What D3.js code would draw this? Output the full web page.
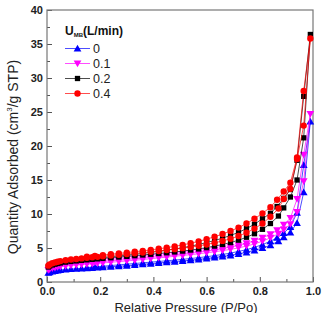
<!DOCTYPE html>
<html>
<head>
<meta charset="utf-8">
<script src="https://cdn.jsdelivr.net/npm/d3@7/dist/d3.min.js"></script>
<style>
  body { margin: 0; background: #fff; }
  svg { display: block; font-family: Arial, "Liberation Sans", sans-serif; }
</style>
</head>
<body>
<div id="chart"></div>
<script>
// Relative pressure points (adsorption up, desorption back down)
const adsP = [0.005,0.01,0.02,0.03,0.04,0.05,0.07,0.09,0.11,0.13,0.15,0.17,0.19,0.21,0.24,0.27,0.30,0.33,0.36,0.39,0.42,0.45,0.48,0.51,0.54,0.57,0.60,0.63,0.66,0.69,0.72,0.75,0.78,0.81,0.84,0.87,0.89,0.915,0.94,0.965,0.99];
const desP = [0.965,0.94,0.915,0.89,0.865,0.84,0.81,0.78,0.75,0.72,0.69,0.66,0.63,0.60,0.57,0.54,0.51,0.48,0.45,0.42,0.39,0.36,0.33,0.30,0.27,0.24,0.21,0.18,0.15];

// Quantity adsorbed, cm3/g STP
const ads0 = [1.35,1.45,1.55,1.63,1.7,1.76,1.84,1.9,1.95,2.0,2.04,2.08,2.12,2.16,2.24,2.32,2.4,2.5,2.6,2.7,2.8,2.9,3.0,3.1,3.2,3.32,3.45,3.6,3.75,3.92,4.12,4.35,4.65,5.0,5.4,6.0,6.6,7.3,8.7,13.2,23.6];
const des0 = [17.2,10.2,8.1,7.2,6.5,6.0,5.5,5.1,4.75,4.5,4.25,4.05,3.88,3.72,3.58,3.45,3.33,3.22,3.12,3.02,2.92,2.82,2.72,2.62,2.52,2.42,2.32,2.22,2.12];

const ads01 = [1.75,1.87,2.0,2.1,2.18,2.25,2.35,2.43,2.5,2.56,2.62,2.68,2.74,2.8,2.9,3.0,3.1,3.2,3.3,3.42,3.54,3.66,3.78,3.9,4.02,4.15,4.3,4.45,4.62,4.8,5.02,5.28,5.6,6.0,6.5,7.1,7.7,8.5,10.3,14.8,24.7];
const des01 = [18.7,12.2,9.4,8.4,7.6,7.0,6.5,6.05,5.7,5.4,5.15,4.92,4.72,4.54,4.38,4.23,4.1,3.97,3.85,3.73,3.62,3.5,3.4,3.3,3.2,3.1,3.0,2.9,2.8];

const ads02 = [2.2,2.35,2.5,2.62,2.72,2.8,2.92,3.02,3.1,3.18,3.26,3.33,3.4,3.47,3.57,3.67,3.77,3.87,3.97,4.08,4.19,4.3,4.42,4.55,4.7,4.86,5.05,5.28,5.52,5.8,6.15,6.58,7.1,7.75,8.6,9.7,10.9,12.5,15.0,21.2,36.4];
const des02 = [27.3,17.9,13.6,12.3,11.1,10.1,9.3,8.5,7.85,7.3,6.85,6.45,6.1,5.8,5.52,5.27,5.05,4.85,4.66,4.5,4.35,4.2,4.07,3.95,3.83,3.72,3.6,3.48,3.36];

const ads04 = [2.4,2.58,2.75,2.88,2.98,3.07,3.2,3.3,3.39,3.47,3.55,3.63,3.7,3.78,3.89,4.0,4.1,4.21,4.32,4.44,4.56,4.69,4.83,4.98,5.14,5.32,5.52,5.76,6.04,6.36,6.76,7.25,7.85,8.6,9.6,10.8,12.2,13.7,18.1,23.0,35.8];
const des04 = [28.1,18.3,14.6,13.3,12.1,11.0,10.1,9.3,8.6,8.0,7.5,7.05,6.65,6.3,5.98,5.7,5.45,5.24,5.05,4.88,4.72,4.58,4.45,4.32,4.2,4.08,3.96,3.84,3.72];

const seriesNames = ["0", "0.1", "0.2", "0.4"];
const seriesColors = ["#0000ff", "#ff00ff", "#000000", "#ff0000"];
const xTicks = [0, 0.2, 0.4, 0.6, 0.8, 1.0];
const yTicks = [0, 5, 10, 15, 20, 25, 30, 35, 40];

const width = 330, height = 313;
const margin = {left: 47, right: 17, top: 10, bottom: 31};

const svg = d3.select("#chart").append("svg")
    .attr("width", width)
    .attr("height", height);

const x = d3.scaleLinear().domain([0, 1]).range([margin.left, width - margin.right]);
const y = d3.scaleLinear().domain([0, 40]).range([height - margin.bottom, margin.top]);

// build point lists
function pts(ads, des) {
    const a = adsP.map((p, i) => ({p: p, v: ads[i]}));
    const d = desP.map((p, i) => ({p: p, v: des[i]}));
    return a.concat(d);
}
const series = [
    {name: seriesNames[0], color: seriesColors[0], shape: "up",     data: pts(ads0, des0)},
    {name: seriesNames[1], color: seriesColors[1], shape: "down",   data: pts(ads01, des01)},
    {name: seriesNames[2], color: seriesColors[2], shape: "square", data: pts(ads02, des02)},
    {name: seriesNames[3], color: seriesColors[3], shape: "circle", data: pts(ads04, des04)}
];

function symbolPath(shape) {
    if (shape === "square") return d3.symbol(d3.symbolSquare, 28)();
    if (shape === "circle") return d3.symbol(d3.symbolCircle, 32)();
    return d3.symbol(d3.symbolTriangle, 26)();
}
function symbolTransform(shape, px, py) {
    if (shape === "up") return `translate(${px},${py + 0.8})`;
    if (shape === "down") return `translate(${px},${py - 0.8}) rotate(180)`;
    return `translate(${px},${py})`;
}

// axes
const axisColor = "#555";
const fontTick = "bold 11px Arial, 'Liberation Sans', sans-serif";

const yAxis = svg.append("g")
    .attr("transform", `translate(${margin.left},0)`)
    .call(d3.axisLeft(y).tickValues(yTicks).tickSize(-5).tickSizeOuter(0).tickPadding(4).tickFormat(d3.format("d")));
const yMinor = svg.append("g")
    .attr("transform", `translate(${margin.left},0)`)
    .call(d3.axisLeft(y).tickValues(yTicks.slice(0, -1).map(d => d + 2.5)).tickSize(-3).tickSizeOuter(0).tickFormat(""));

const xAxis = svg.append("g")
    .attr("transform", `translate(0,${height - margin.bottom})`)
    .call(d3.axisBottom(x).tickValues(xTicks).tickSize(-5).tickSizeOuter(0).tickPadding(5).tickFormat(d3.format(".1f")));
const xMinor = svg.append("g")
    .attr("transform", `translate(0,${height - margin.bottom})`)
    .call(d3.axisBottom(x).tickValues(xTicks.slice(0, -1).map(d => d + 0.1)).tickSize(-3).tickSizeOuter(0).tickFormat(""));

[yAxis, yMinor, xAxis, xMinor].forEach(g => {
    g.selectAll("path").remove();
    g.selectAll("line").attr("stroke", axisColor).attr("stroke-width", 1);
    g.selectAll("text").style("font", fontTick).attr("fill", "#222");
});

// frame
svg.append("rect")
    .attr("x", margin.left)
    .attr("y", margin.top)
    .attr("width", width - margin.left - margin.right)
    .attr("height", height - margin.top - margin.bottom)
    .attr("fill", "none")
    .attr("stroke", "#777")
    .attr("stroke-width", 1.2);

// series
const line = d3.line().x(d => x(d.p)).y(d => y(d.v));

series.forEach(s => {
    const g = svg.append("g");
    g.append("path")
        .datum(s.data)
        .attr("d", line)
        .attr("fill", "none")
        .attr("stroke", s.color)
        .attr("stroke-width", 0.7);
    g.selectAll("path.mk")
        .data(s.data)
        .enter()
        .append("path")
        .attr("class", "mk")
        .attr("d", symbolPath(s.shape))
        .attr("transform", d => symbolTransform(s.shape, x(d.p), y(d.v)))
        .attr("fill", s.color);
});

// legend
const legend = svg.append("g");
const title = legend.append("text")
    .attr("x", 65)
    .attr("y", 35)
    .style("font", "bold 12px Arial, 'Liberation Sans', sans-serif")
    .attr("fill", "#111");
title.append("tspan").text("U");
title.append("tspan").text("MB").style("font-size", "6px").attr("dy", 2);
title.append("tspan").text("(L/min)").attr("dy", -2);

series.forEach((s, i) => {
    const ly = 48.5 + i * 15;
    legend.append("line")
        .attr("x1", 65).attr("x2", 90)
        .attr("y1", ly).attr("y2", ly)
        .attr("stroke", s.color)
        .attr("stroke-width", 0.7);
    legend.append("path")
        .attr("d", symbolPath(s.shape))
        .attr("transform", symbolTransform(s.shape, 77.5, ly))
        .attr("fill", s.color);
    legend.append("text")
        .attr("x", 93)
        .attr("y", ly + 4.5)
        .style("font", "12.5px Arial, 'Liberation Sans', sans-serif")
        .attr("fill", "#222")
        .text(s.name);
});

// axis titles
svg.append("text")
    .attr("x", 186)
    .attr("y", 312)
    .attr("text-anchor", "middle")
    .style("font", "13px Arial, 'Liberation Sans', sans-serif")
    .attr("fill", "#222")
    .text("Relative Pressure (P/Po)");

const yt = svg.append("text")
    .attr("transform", "translate(18,157) rotate(-90)")
    .attr("text-anchor", "middle")
    .style("font", "14px Arial, 'Liberation Sans', sans-serif")
    .attr("fill", "#222");
yt.append("tspan").text("Quantity Adsorbed (cm");
yt.append("tspan").text("3").style("font-size", "8px").attr("dy", -6);
yt.append("tspan").text("/g STP)").attr("dy", 6);
</script>
</body>
</html>
